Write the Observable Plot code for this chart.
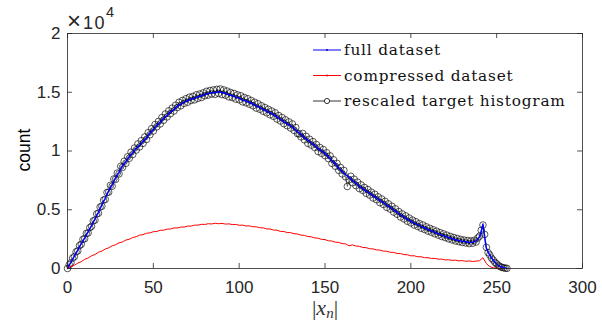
<!DOCTYPE html>
<html><head><meta charset="utf-8">
<script src="https://cdn.jsdelivr.net/npm/d3@7"></script>
<script src="https://cdn.jsdelivr.net/npm/@observablehq/plot@0.6"></script>
<style>body{margin:0;background:#fff} svg{display:block}</style>
</head><body><div id="chart"></div>
<script>
// ---- data ----
const fullX = [0,2,4,6,8,10,12,14,16,18,20,22,24,26,28,30,32,34,36,38,40,42,44,46,48,50,52,54,56,58,60,62,64,66,68,70,72,74,76,78,80,82,84,86,88,90,92,94,96,98,100,102,104,106,108,110,112,114,116,118,120,122,124,126,128,130,132,134,136,138,140,142,144,146,148,150,152,154,156,158,160,162,164,166,168,170,172,174,176,178,180,182,184,186,188,190,192,194,196,198,200,202,204,206,208,210,212,214,216,218,220,222,224,226,228,230,232,234,236,238,240,241,242,243,244,246,248,250,252,254,256];
const fullY = [0,540,1060,1570,2120,2590,3130,3640,4230,4780,5410,5980,6620,7130,7720,8180,8730,9080,9530,9830,10230,10480,10820,11130,11530,11820,12180,12430,12780,13020,13330,13520,13830,13980,14180,14280,14430,14480,14630,14680,14830,14880,14980,14960,15070,14950,14930,14780,14730,14580,14520,14330,14280,14130,14020,13830,13720,13530,13420,13230,13120,12880,12720,12480,12330,12130,11920,11630,11420,11130,10920,10680,10470,10180,10020,9780,9520,9180,8920,8530,8270,7980,7770,7480,7270,6980,6820,6580,6420,6180,6020,5780,5620,5380,5220,4980,4790,4550,4390,4180,4040,3860,3730,3580,3470,3310,3210,3070,2970,2840,2750,2630,2550,2450,2390,2310,2280,2220,2240,2330,2680,3150,3780,2650,1720,1130,700,390,170,60,10];

const compX = d3.range(0, 257, 2);
const compY = [0,160,270,460,580,780,890,1080,1190,1380,1480,1660,1760,1930,2020,2180,2260,2420,2490,2640,2700,2840,2880,3000,3030,3130,3150,3250,3260,3350,3360,3450,3450,3530,3530,3610,3610,3690,3690,3760,3750,3810,3790,3850,3810,3840,3780,3800,3740,3750,3680,3690,3620,3630,3550,3550,3470,3460,3370,3360,3270,3260,3160,3150,3060,3050,2960,2940,2840,2820,2720,2700,2600,2580,2480,2460,2360,2340,2240,2220,2120,2100,1930,2010,1910,1890,1790,1770,1680,1670,1580,1570,1480,1470,1380,1370,1280,1270,1180,1170,1080,1080,1000,1000,920,920,850,860,790,800,730,750,690,710,650,670,615,640,595,630,665,920,420,160,60,20,5,0,0];

const histX = d3.range(0, 257, 1);
const histY = [0,320,480,880,1010,1420,1500,1950,2060,2480,2540,2990,3020,3480,3590,4050,4120,4650,4700,5230,5300,5820,5880,6470,6500,7080,7000,7620,7580,8120,8050,8700,8600,9120,8950,9510,9380,9900,9700,10250,10080,10600,10350,10880,10650,11200,10980,11560,11380,11900,11700,12250,12050,12520,12300,12850,12620,13150,12900,13420,13180,13650,13400,13900,13700,14150,13850,14300,14050,14450,14150,14580,14300,14650,14350,14780,14480,14850,14550,14950,14700,15080,14760,15150,14850,15200,14820,15250,14900,15280,14800,15200,14750,15100,14600,14980,14550,14900,14420,14780,14350,14700,14180,14550,14100,14450,13980,14300,13850,14150,13650,14020,13550,13850,13380,13700,13250,13550,13080,13400,12950,13250,12720,13020,12550,12850,12330,12650,12150,12480,11950,12300,11750,12000,11480,11450,11200,11500,10950,11250,10650,11000,10500,10800,10300,10550,9950,10300,9800,10120,9600,9850,9350,9580,8950,9250,8700,8950,8350,8600,8050,8350,7800,6980,7550,7850,7300,7600,7050,7350,6800,7120,6650,6900,6400,6720,6250,6500,6000,6320,5850,6100,5600,5920,5450,5720,5200,5500,5050,5300,4800,5080,4620,4850,4380,4650,4220,4480,4020,4300,3880,4120,3700,3980,3580,3820,3430,3700,3320,3550,3180,3420,3080,3300,2950,3180,2840,3060,2720,2950,2630,2840,2520,2730,2430,2640,2340,2560,2280,2480,2210,2420,2170,2380,2120,2350,2150,2400,2250,2600,2750,3250,3700,2900,1800,1350,1150,880,720,520,400,260,160,100,60,30,10];

const xTicks = [0, 50, 100, 150, 200, 250, 300];
const yTicks = [0, 5000, 10000, 15000, 20000];
const yTickLabels = ["0", "0.5", "1", "1.5", "2"];
const legendLabels = ["full dataset", "compressed dataset", "rescaled target histogram"];
const seriesColors = ["#0000ff", "#ff0000", "#000000"];

// ---- tables ----
const full = fullX.map((x, i) => ({x, y: fullY[i]}));
const comp = compX.map((x, i) => ({x, y: compY[i]}));
const hist = histX.map((x, i) => ({x, y: histY[i]}));

// ---- layout ----
const W = 602, H = 326, mL = 67, mR = 20, mT = 33, mB = 58;
const pW = W - mL - mR, pH = H - mT - mB;
const axisColor = "#262626";

const plot = Plot.plot({
  width: W, height: H,
  marginLeft: mL, marginRight: mR, marginTop: mT, marginBottom: mB,
  x: {domain: [0, 300]},
  y: {domain: [0, 20000]},
  style: {fontFamily: "'Liberation Sans', Arial, sans-serif", fontSize: "17px", color: axisColor, background: "white"},
  marks: [
    Plot.line(hist, {x: "x", y: "y", stroke: seriesColors[2], strokeWidth: 0.5}),
    Plot.dot(hist, {x: "x", y: "y", r: 3.3, stroke: seriesColors[2], strokeWidth: 0.65, fill: "none"}),
    Plot.line(comp, {x: "x", y: "y", stroke: seriesColors[1], strokeWidth: 1}),
    Plot.line(full, {x: "x", y: "y", stroke: seriesColors[0], strokeWidth: 1.5}),
    Plot.frame({stroke: axisColor, strokeWidth: 0.8}),
    Plot.tickX(xTicks, {x: d => d, insetTop: pH - 5, stroke: axisColor, strokeWidth: 0.8}),
    Plot.tickX(xTicks, {x: d => d, insetBottom: pH - 5, stroke: axisColor, strokeWidth: 0.8}),
    Plot.tickY(yTicks, {y: d => d, insetRight: pW - 5, stroke: axisColor, strokeWidth: 0.8}),
    Plot.tickY(yTicks, {y: d => d, insetLeft: pW - 5, stroke: axisColor, strokeWidth: 0.8}),
    Plot.axisX({ticks: xTicks, tickSize: 0, tickPadding: 12, label: null, fill: axisColor}),
    Plot.axisY({ticks: yTicks, tickSize: 0, tickPadding: 7, label: null, fill: axisColor,
                tickFormat: d => yTickLabels[yTicks.indexOf(d)]})
  ]
});
document.getElementById("chart").appendChild(plot);

const svg = d3.select(plot);

// exponent label
const ex = svg.append("text").attr("x", 67).attr("y", 29).attr("text-anchor", "start")
  .attr("font-family", "'Liberation Sans', Arial, sans-serif").attr("fill", axisColor)
  .style("font-size", "18px");
ex.append("tspan").style("font-size", "24px").text("×");
ex.append("tspan").attr("dx", 2).attr("letter-spacing", 1.5).text("10");
ex.append("tspan").attr("dy", -12).style("font-size", "14.5px").text("4");

// y label
svg.append("text").attr("transform", "translate(30,150) rotate(-90)")
  .attr("text-anchor", "middle").attr("font-family", "'Liberation Sans', Arial, sans-serif")
  .style("font-size", "17.5px").attr("fill", "#000").text("count");

// x label |x_n|
const xl = svg.append("text").attr("x", 325).attr("y", 315).attr("text-anchor", "middle")
  .attr("font-family", "'Liberation Serif', 'DejaVu Serif', serif").style("font-size", "22px").attr("fill", "#333");
xl.append("tspan").text("|");
xl.append("tspan").attr("font-style", "italic").text("x");
xl.append("tspan").attr("font-style", "italic").style("font-size", "15px").attr("dy", 3).text("n");
xl.append("tspan").attr("dy", -3).text("|");

// legend
const rowsY = [50, 75.5, 101];
const lg = svg.append("g");
legendLabels.forEach((lab, i) => {
  const yy = rowsY[i];
  lg.append("line").attr("x1", 313).attr("x2", 341).attr("y1", yy).attr("y2", yy)
    .attr("stroke", seriesColors[i]).attr("stroke-width", i === 2 ? 0.8 : 1);
  if (i === 2) {
    lg.append("circle").attr("cx", 327).attr("cy", yy).attr("r", 2.6)
      .attr("fill", "white").attr("stroke", "#000").attr("stroke-width", 0.8);
  } else {
    lg.append("circle").attr("cx", 327).attr("cy", yy).attr("r", 1).attr("fill", seriesColors[i]);
  }
  lg.append("text").attr("x", 344).attr("y", yy + 5).attr("text-anchor", "start")
    .attr("font-family", "'DejaVu Serif', serif").style("font-size", "15.3px")
    .attr("letter-spacing", 0.8).attr("fill", "#111").text(lab);
});
</script>
</body></html>
